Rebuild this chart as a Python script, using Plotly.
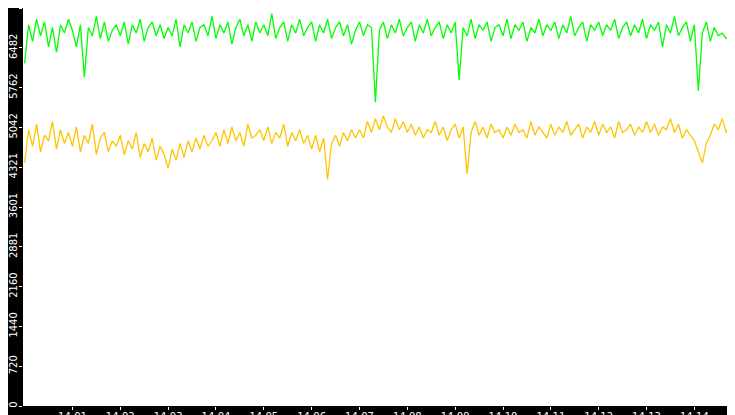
import pandas as pd
import plotly.graph_objects as go

font_family = 'DejaVu Sans'

# samples every 5 s from 14:00:00, last point is the drop at 14:15:00
green_values = [
	6200,6900,6600,7000,6700,6950,6500,6850,6400,6900,6750,7000,
	6800,6500,6900,5950,6850,6700,7050,6650,6950,6600,6800,6900,
	6700,6950,6550,6900,6750,7000,6600,6850,6950,6700,6900,6650,
	6850,6700,7000,6500,6900,6750,6950,6600,6850,6900,6700,7050,
	6650,6900,6750,6950,6550,6850,7000,6700,6900,6600,6950,6750,
	6900,6700,7100,6650,6850,6950,6600,6900,6750,7000,6700,6850,
	6950,6600,6900,6750,7000,6650,6850,6950,6700,6900,6550,6800,
	6950,6700,6900,6850,5500,6800,6950,6650,6900,6750,7000,6700,
	6850,6950,6600,6900,6750,7000,6700,6850,6950,6650,6900,6750,
	6950,5900,6850,6700,7000,6650,6900,6800,6950,6600,6850,6900,
	6700,7000,6650,6900,6800,6950,6600,6850,6750,7000,6700,6900,
	6800,6950,6650,6900,6750,7050,6700,6850,6950,6600,6900,6800,
	6950,6700,6900,6800,7000,6650,6850,6950,6700,6900,6750,7000,
	6650,6900,6800,6950,6500,6900,6750,7050,6700,6850,6950,6600,
	6900,5700,6750,6950,6600,6850,6700,6750,6650,6700,6800,6650,
	2300,
]
yellow_values = [
	4400,5000,4700,5100,4600,4900,4800,5150,4650,5000,4750,4950,
	4700,5050,4600,4900,4750,5100,4550,4850,4950,4600,4800,4700,
	4900,4550,4800,4650,4950,4500,4750,4600,4850,4450,4700,4550,
	4300,4650,4450,4750,4500,4800,4600,4850,4650,4900,4700,4800,
	4950,4700,5000,4750,5050,4800,4950,4700,5100,4850,4900,5000,
	4800,5050,4750,4950,4850,5100,4700,4950,4800,5000,4750,4900,
	4650,4900,4600,4850,4100,4750,4900,4700,4950,4800,5000,4850,
	5000,4850,5150,4950,5200,5000,5250,5050,4950,5200,5000,5150,
	4950,5100,4900,5050,4850,5000,4950,5150,4900,5050,4800,5000,
	5100,4850,5050,4200,4950,5150,4900,5050,4850,5100,4950,5000,
	4850,5050,4900,5100,4950,5000,4850,5150,4900,5050,4950,4850,
	5100,4900,5050,4950,5150,4900,5000,5100,4850,5050,4950,5150,
	4900,5100,4950,5050,4850,5150,4950,5000,5100,4900,5050,4950,
	5150,4950,5100,4900,5050,5000,5200,4950,5100,4850,5000,4900,
	4800,4600,4400,4750,4900,5100,5000,5200,4950,5100,4700,4850,
	0,
]
y_max = 7203
y_tick_labels = ['0','720','1440','2160','2881','3601','4321','5042','5762','6482','7203']
x_tick_labels = ['14:%02d' % m for m in range(1, 15)]

times = pd.date_range('2021-01-01 14:00:00', periods=len(green_values), freq='5s')

fig = go.Figure()
fig.add_trace(go.Scatter(x=times, y=yellow_values, mode='lines',
						line=dict(color='#ffc400', width=1.3), hoverinfo='skip'))
fig.add_trace(go.Scatter(x=times, y=green_values, mode='lines',
						line=dict(color='#00ff00', width=1.3), hoverinfo='skip'))

fig.update_layout(
	width=735,
	height=415,
	margin=dict(l=15, r=0, t=0, b=17, pad=0),
	paper_bgcolor='black',
	plot_bgcolor='white',
	showlegend=False,
	font=dict(family=font_family, size=10, color='white'),
	xaxis=dict(
		range=['2021-01-01 13:59:58', '2021-01-01 14:15:01'],
		tickvals=pd.date_range('2021-01-01 14:01:00', periods=14, freq='1min'),
		ticktext=x_tick_labels,
		ticks='outside', ticklen=3, tickcolor='white',
		ticklabelstandoff=-2,
		showgrid=False, zeroline=False, showline=False,
	),
	yaxis=dict(
		range=[0, y_max],
		tickvals=[y_max * i / 10 for i in range(11)],
		ticktext=y_tick_labels,
		tickangle=-90,
		ticks='outside', ticklen=3, tickcolor='white',
		ticklabelstandoff=-2,
		showgrid=False, zeroline=False, showline=False,
	),
)

fig.write_html('out.html', config={'displayModeBar': False})
